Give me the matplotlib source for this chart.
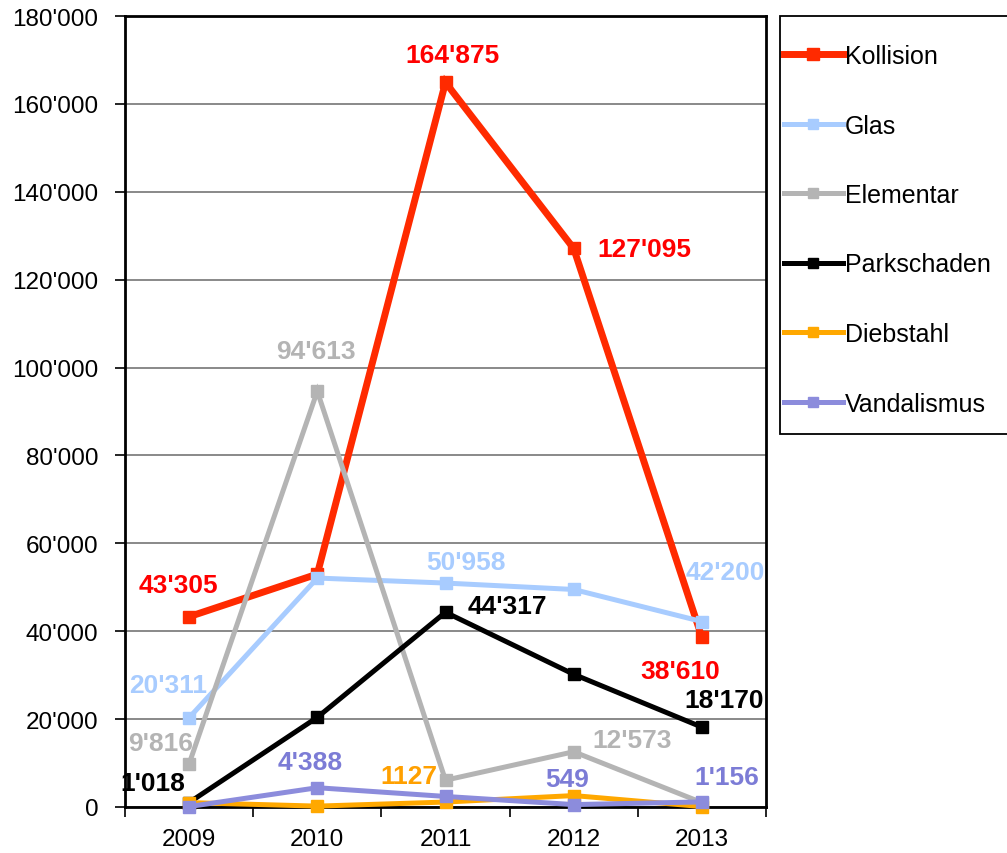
import matplotlib
matplotlib.use("Agg")
import matplotlib.pyplot as plt
from matplotlib.patches import Rectangle
from matplotlib.ticker import FuncFormatter, MultipleLocator, FixedLocator

plt.rcParams['font.family'] = ['Liberation Sans', 'DejaVu Sans']

years = ["2009", "2010", "2011", "2012", "2013"]
series_names = ["Kollision", "Glas", "Elementar", "Parkschaden", "Diebstahl", "Vandalismus"]
kollision = [43305, 53000, 164875, 127095, 38610]
glas = [20311, 52100, 50958, 49500, 42200]
elementar = [9816, 94613, 6100, 12573, 1000]
parkschaden = [1018, 20400, 44317, 30200, 18170]
diebstahl = [1000, 200, 1127, 2600, 100]
vandalismus = [100, 4388, 2400, 549, 1156]
values = [kollision, glas, elementar, parkschaden, diebstahl, vandalismus]

line_colors = ["#FF2A00", "#A8CCFF", "#B4B4B4", "#000000", "#FFA800", "#8C8CDC"]
label_colors = ["#FF0000", "#A8CCFF", "#B4B4B4", "#000000", "#FFA000", "#7C7CD6"]
line_widths = [5.0, 3.6, 3.6, 3.6, 3.6, 3.6]
marker_sizes = [9.0, 8.5, 8.5, 8.5, 8.5, 8.5]

# (series index, year index, dx px, dy px)
labels = [
    (0, 0, -11, 32), (0, 2, 7, 27), (0, 3, 71, -1), (0, 4, -22, -34),
    (1, 0, -21, 33), (1, 2, 20, 21), (1, 4, 23, 50),
    (2, 0, -28, 21), (2, 1, -1, 40), (2, 3, 58, 12),
    (3, 0, -36, 20), (3, 2, 62, 6), (3, 4, 22, 27),
    (4, 2, -37, 26),
    (5, 1, -7, 26), (5, 3, -7, 26), (5, 4, 25, 25),
]
label_texts = {
    (0, 0): "43'305", (0, 2): "164'875", (0, 3): "127'095", (0, 4): "38'610",
    (1, 0): "20'311", (1, 2): "50'958", (1, 4): "42'200",
    (2, 0): "9'816", (2, 1): "94'613", (2, 3): "12'573",
    (3, 0): "1'018", (3, 2): "44'317", (3, 4): "18'170",
    (4, 2): "1127",
    (5, 1): "4'388", (5, 3): "549", (5, 4): "1'156",
}

W, H = 1007, 854
fig = plt.figure(figsize=(W / 100, H / 100), dpi=100)
ax = fig.add_axes([125 / W, (H - 808) / H, (766 - 125) / W, (808 - 17) / H])

x = list(range(len(years)))
handles = []
for i, name in enumerate(series_names):
    h, = ax.plot(x, values[i], color=line_colors[i], lw=line_widths[i], marker='s',
                 ms=marker_sizes[i], mfc=line_colors[i], mec=line_colors[i],
                 label=name, clip_on=False, zorder=3 + i, solid_joinstyle='miter')
    handles.append(h)

for (si, yi, dx, dy) in labels:
    ax.annotate(label_texts[(si, yi)], (x[yi], values[si][yi]), xytext=(dx, dy),
                textcoords='offset pixels', ha='center', va='center',
                fontsize=19, fontweight='bold', color=label_colors[si], zorder=20)

ax.set_xlim(-0.5, len(years) - 0.5)
ax.set_ylim(0, 180000)
ax.yaxis.set_major_locator(MultipleLocator(20000))
ax.yaxis.set_major_formatter(FuncFormatter(lambda v, p: f"{int(v):,}".replace(",", "'")))
ax.set_xticks(x)
ax.set_xticklabels(years)
ax.xaxis.set_minor_locator(FixedLocator([i - 0.5 for i in range(len(years) + 1)]))
ax.tick_params(axis='x', which='major', length=0, labelsize=17.5, pad=15)
ax.tick_params(axis='x', which='minor', length=7, width=1.2, direction='out')
ax.tick_params(axis='y', which='major', length=7, width=1.2, direction='out', labelsize=17.5, pad=12)
ax.grid(axis='y', color='#808080', lw=1.3)
ax.set_axisbelow(True)
for s in ax.spines.values():
    s.set_linewidth(2)
    s.set_color('black')

# legend box
fig.patches.append(Rectangle((780 / W, (H - 435) / H), 240 / W, 418 / H,
                             transform=fig.transFigure, facecolor='white',
                             edgecolor='black', lw=1.3, zorder=0))
fig.legend(handles=handles, loc='upper left', bbox_to_anchor=(784 / W, 1 - 45 / H),
           frameon=False, fontsize=18, handlelength=2.35, handletextpad=0.1,
           labelspacing=1.82, borderpad=0, borderaxespad=0, markerscale=0.9)

fig.savefig("out.png", dpi=100)
